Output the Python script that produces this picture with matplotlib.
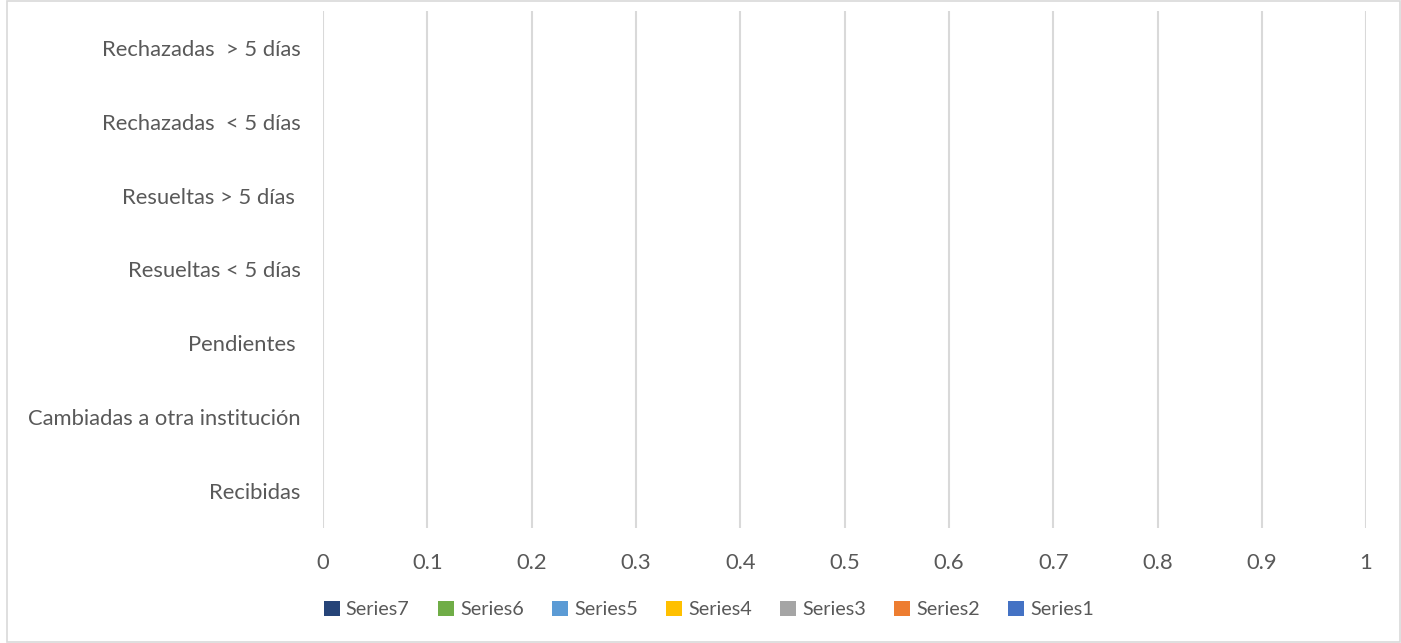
from matplotlib import pyplot as plt
from matplotlib.patches import Rectangle
import numpy as np

categories = ["Recibidas", "Cambiadas a otra institución", "Pendientes ",
              "Resueltas < 5 días", "Resueltas > 5 días ",
              "Rechazadas  < 5 días", "Rechazadas  > 5 días"]
series_names = ["Series1", "Series2", "Series3", "Series4", "Series5", "Series6", "Series7"]
series_values = [[0, 0, 0, 0, 0, 0, 0] for _ in series_names]
colors = ["#4472C4", "#ED7D31", "#A5A5A5", "#FFC000", "#5B9BD5", "#70AD47", "#264478"]
x_ticks = [0, 0.1, 0.2, 0.3, 0.4, 0.5, 0.6, 0.7, 0.8, 0.9, 1]

plt.rcParams["font.family"] = ["Lato", "DejaVu Sans"]
text_color = "#595959"

fig = plt.figure(figsize=(14.01, 6.43), dpi=100)
ax = fig.add_axes([0.2306, 0.179, 0.7445, 0.804])

y = np.arange(len(categories))
h = 0.6 / len(series_names)
for i, name in enumerate(series_names):
    ax.barh(y - 0.3 + h * (i + 0.5), series_values[i], height=h, color=colors[i], label=name)

ax.set_xlim(0, 1)
ax.set_ylim(-0.5, len(categories) - 0.5)
ax.set_xticks(x_ticks)
ax.set_xticklabels([f"{t:g}" for t in x_ticks])
ax.set_yticks(y)
ax.set_yticklabels(categories)
ax.tick_params(axis="both", length=0, labelsize=15.8, colors=text_color)
ax.tick_params(axis="x", pad=18)
ax.tick_params(axis="y", pad=16)
ax.grid(axis="x", color="#D9D9D9", linewidth=1.5)
ax.set_axisbelow(True)
for s in ax.spines.values():
    s.set_visible(False)

handles, labels = ax.get_legend_handles_labels()
fig.legend(handles[::-1], labels[::-1], loc="center", bbox_to_anchor=(0.506, 0.052),
           ncol=7, frameon=False, fontsize=14.2, labelcolor=text_color,
           handlelength=0.8, handleheight=0.8, handletextpad=0.3, columnspacing=1.45)

fig.patches.append(Rectangle((0.005, 0.002), 0.994, 0.996, transform=fig.transFigure,
                             fill=False, edgecolor="#D9D9D9", linewidth=1.2))

fig.savefig("out.png", dpi=100)
